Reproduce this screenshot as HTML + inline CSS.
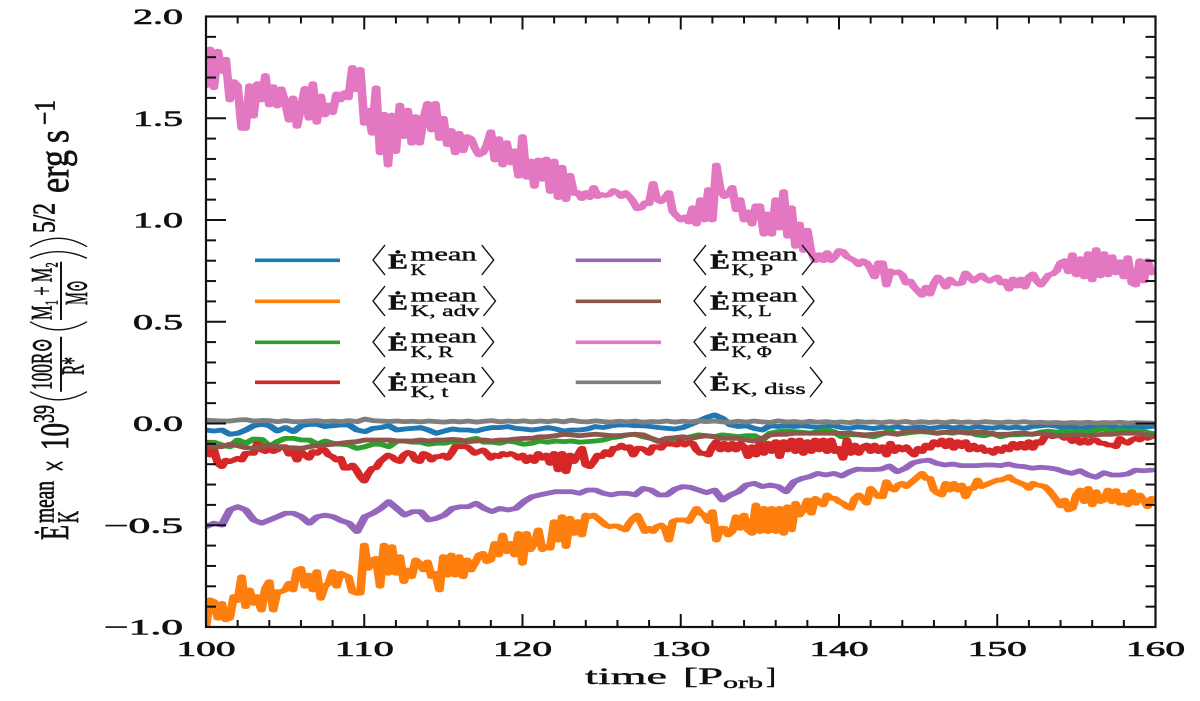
<!DOCTYPE html>
<html>
<head>
<meta charset="utf-8">
<title>Kinetic energy rate budget vs time</title>
<style>
html,body{margin:0;padding:0;background:#fff;}
svg{display:block;}
text{font-family:"Liberation Serif","DejaVu Serif",serif;fill:#111;stroke:#111;stroke-width:.4;}
</style>
</head>
<body>
<svg id="chart" xmlns="http://www.w3.org/2000/svg" width="1200" height="701" viewBox="0 0 1200 701">
<defs><clipPath id="plot-clip"><rect x="206" y="16.5" width="949.5" height="610.5"/></clipPath></defs>
<g id="series-layer" clip-path="url(#plot-clip)"></g>
<g id="axis-layer"></g>

<g>
<text x="585" y="684" font-size="23" textLength="82" lengthAdjust="spacingAndGlyphs">time</text>
<text x="683" y="684" font-size="23" textLength="40" lengthAdjust="spacingAndGlyphs">[P</text>
<text x="723" y="688" font-size="16" textLength="40" lengthAdjust="spacingAndGlyphs">orb</text>
<text x="766" y="684" font-size="23" textLength="10" lengthAdjust="spacingAndGlyphs">]</text>
</g>

<g>
<g transform="translate(68,540) rotate(-90) scale(1,1.85)">
<text x="0" y="0" font-size="22" textLength="15" lengthAdjust="spacingAndGlyphs">Ė</text>
<text x="17" y="-7.8" font-size="16" textLength="42" lengthAdjust="spacingAndGlyphs">mean</text>
<text x="17" y="5.5" font-size="16" textLength="12" lengthAdjust="spacingAndGlyphs">K</text>
<text x="68" y="0" font-size="22" textLength="12" lengthAdjust="spacingAndGlyphs">×</text>
<text x="90" y="0" font-size="22" textLength="27" lengthAdjust="spacingAndGlyphs">10</text>
<text x="117" y="-7.8" font-size="16" textLength="18" lengthAdjust="spacingAndGlyphs">39</text>
<text x="150" y="-8.9" font-size="16" textLength="52" lengthAdjust="spacingAndGlyphs">100R⊙</text>
<text x="165" y="8.5" font-size="17" textLength="18" lengthAdjust="spacingAndGlyphs">R*</text>
<text x="220" y="-8.9" font-size="16" textLength="58" lengthAdjust="spacingAndGlyphs">M₁ + M₂</text>
<text x="235" y="10.4" font-size="17" textLength="25" lengthAdjust="spacingAndGlyphs">M⊙</text>
<text x="307" y="-7.2" font-size="17" textLength="30" lengthAdjust="spacingAndGlyphs">5/2</text>
<text x="347" y="0" font-size="23" textLength="43" lengthAdjust="spacingAndGlyphs">erg</text>
<text x="397" y="0" font-size="23" textLength="13" lengthAdjust="spacingAndGlyphs">s</text>
<text x="415" y="-7.2" font-size="16" textLength="25" lengthAdjust="spacingAndGlyphs">−1</text>
</g>
<path d="M61,391.7V336.7M61,320V261.7" stroke="#111" stroke-width="2" fill="none"/>
<path d="M30,391.7Q58,408 87,391.7M30,321.7Q58,338 87,321.7M30,258.3Q58,245 87,258.3M30,246.7Q58,230 87,246.7" stroke="#111" stroke-width="1.4" fill="none"/>
</g>

<g fill="none">
<g>
<line x1="255" x2="340" y1="260.3" y2="260.3" stroke="#1f77b4" stroke-width="3.6"/>
<polyline points="385,245 373,260 385,275" stroke="#111" stroke-width="1.4"/>
<text x="388" y="268.3" font-size="21" font-weight="bold" textLength="20" lengthAdjust="spacingAndGlyphs">Ė</text>
<text x="410.7" y="260.7" font-size="19" textLength="66" lengthAdjust="spacingAndGlyphs">mean</text>
<text x="410.7" y="275" font-size="16" textLength="15.3" lengthAdjust="spacingAndGlyphs">K</text>
<polyline points="481.7,245 493.7,260 481.7,275" stroke="#111" stroke-width="1.4"/>
</g>
<g transform="translate(0,41)">
<line x1="255" x2="340" y1="260.3" y2="260.3" stroke="#ff7f0e" stroke-width="3.6"/>
<polyline points="385,245 373,260 385,275" stroke="#111" stroke-width="1.4"/>
<text x="388" y="268.3" font-size="21" font-weight="bold" textLength="20" lengthAdjust="spacingAndGlyphs">Ė</text>
<text x="410.7" y="260.7" font-size="19" textLength="66" lengthAdjust="spacingAndGlyphs">mean</text>
<text x="410.7" y="275" font-size="16" textLength="68.7" lengthAdjust="spacingAndGlyphs">K, adv</text>
<polyline points="483.5,245 495.5,260 483.5,275" stroke="#111" stroke-width="1.4"/>
</g>
<g transform="translate(0,82)">
<line x1="255" x2="340" y1="260.3" y2="260.3" stroke="#2ca02c" stroke-width="3.6"/>
<polyline points="385,245 373,260 385,275" stroke="#111" stroke-width="1.4"/>
<text x="388" y="268.3" font-size="21" font-weight="bold" textLength="20" lengthAdjust="spacingAndGlyphs">Ė</text>
<text x="410.7" y="260.7" font-size="19" textLength="66" lengthAdjust="spacingAndGlyphs">mean</text>
<text x="410.7" y="275" font-size="16" textLength="42.7" lengthAdjust="spacingAndGlyphs">K, R</text>
<polyline points="481.7,245 493.7,260 481.7,275" stroke="#111" stroke-width="1.4"/>
</g>
<g transform="translate(0,122)">
<line x1="255" x2="340" y1="260.3" y2="260.3" stroke="#d62728" stroke-width="3.6"/>
<polyline points="385,245 373,260 385,275" stroke="#111" stroke-width="1.4"/>
<text x="388" y="268.3" font-size="21" font-weight="bold" textLength="20" lengthAdjust="spacingAndGlyphs">Ė</text>
<text x="410.7" y="260.7" font-size="19" textLength="66" lengthAdjust="spacingAndGlyphs">mean</text>
<text x="410.7" y="275" font-size="16" textLength="37.7" lengthAdjust="spacingAndGlyphs">K, t</text>
<polyline points="481.7,245 493.7,260 481.7,275" stroke="#111" stroke-width="1.4"/>
</g>
<g>
<line x1="575.7" x2="661" y1="260.3" y2="260.3" stroke="#9467bd" stroke-width="3.6"/>
<polyline points="706,245 694,260 706,275" stroke="#111" stroke-width="1.4"/>
<text x="710" y="268.3" font-size="21" font-weight="bold" textLength="20" lengthAdjust="spacingAndGlyphs">Ė</text>
<text x="731.7" y="260.7" font-size="19" textLength="66" lengthAdjust="spacingAndGlyphs">mean</text>
<text x="731.7" y="275" font-size="16" textLength="41.5" lengthAdjust="spacingAndGlyphs">K, P</text>
<polyline points="802,245 814,260 802,275" stroke="#111" stroke-width="1.4"/>
</g>
<g transform="translate(0,41)">
<line x1="575.7" x2="661" y1="260.3" y2="260.3" stroke="#8c564b" stroke-width="3.6"/>
<polyline points="706,245 694,260 706,275" stroke="#111" stroke-width="1.4"/>
<text x="710" y="268.3" font-size="21" font-weight="bold" textLength="20" lengthAdjust="spacingAndGlyphs">Ė</text>
<text x="731.7" y="260.7" font-size="19" textLength="66" lengthAdjust="spacingAndGlyphs">mean</text>
<text x="731.7" y="275" font-size="16" textLength="40" lengthAdjust="spacingAndGlyphs">K, L</text>
<polyline points="802,245 814,260 802,275" stroke="#111" stroke-width="1.4"/>
</g>
<g transform="translate(0,82)">
<line x1="575.7" x2="661" y1="260.3" y2="260.3" stroke="#e377c2" stroke-width="3.6"/>
<polyline points="706,245 694,260 706,275" stroke="#111" stroke-width="1.4"/>
<text x="710" y="268.3" font-size="21" font-weight="bold" textLength="20" lengthAdjust="spacingAndGlyphs">Ė</text>
<text x="731.7" y="260.7" font-size="19" textLength="66" lengthAdjust="spacingAndGlyphs">mean</text>
<text x="731.7" y="275" font-size="16" textLength="40" lengthAdjust="spacingAndGlyphs">K, Φ</text>
<polyline points="802,245 814,260 802,275" stroke="#111" stroke-width="1.4"/>
</g>
<g transform="translate(0,122)">
<line x1="575.7" x2="661" y1="260.3" y2="260.3" stroke="#7f7f7f" stroke-width="3.6"/>
<polyline points="706,245 694,260 706,275" stroke="#111" stroke-width="1.4"/>
<text x="710" y="268.3" font-size="21" font-weight="bold" textLength="20" lengthAdjust="spacingAndGlyphs">Ė</text>
<text x="731.7" y="272" font-size="16" textLength="74" lengthAdjust="spacingAndGlyphs">K, diss</text>
<polyline points="810,245 822,260 810,275" stroke="#111" stroke-width="1.4"/>
</g>
</g>

<script>
const xTickValues = [100, 110, 120, 130, 140, 150, 160];
const xTickLabels = ['100', '110', '120', '130', '140', '150', '160'];
const yTickValues = [-1, -0.5, 0, 0.5, 1, 1.5, 2];
const yTickLabels = ['−1.0', '−0.5', '0.0', '0.5', '1.0', '1.5', '2.0'];
const timeStart = 100;
const timeEnd = 159.75;

const seriesBlue = [
-.032,-.037,-.032,-.053,-.048,-.032,-.011,-.004,-.011,-.037,
-.02,-.04,-.011,-.004,-.004,-.015,-.011,-.007,-.007,-.032,
-.04,-.024,-.02,-.011,-.032,-.027,-.024,-.02,-.032,-.048,
-.037,-.027,-.032,-.032,-.037,-.027,-.02,-.02,-.015,-.024,
-.027,-.032,-.027,-.02,-.027,-.037,-.032,-.032,-.027,-.015,
-.02,-.011,-.007,-.007,-.011,-.011,-.015,-.02,-.024,-.027,
-.02,-.004,.012,.029,.042,.025,-.007,-.015,-.011,-.024,
-.032,-.011,-.015,-.011,-.015,-.011,-.015,-.02,-.015,-.011,
-.02,-.024,-.015,-.02,-.025,-.018,-.022,-.016,-.024,-.02,
-.017,-.024,-.02,-.015,-.022,-.018,-.024,-.016,-.02,-.023,
-.017,-.022,-.018,-.024,-.015,-.012,-.008,-.013,-.02,-.016,
-.022,-.018,-.015,-.02,-.016,-.021,-.017,-.014,-.018,-.015];

const seriesOrange = [
-1.0,-.867,-.875,-.957,-.884,-.965,-.957,-.85,-.87,-.753,-.90,-.818,-.884,-.85,-.917,-.81,-.777,-.917,-.826,-.826,
-.818,-.785,-.818,-.72,-.712,-.80,-.745,-.818,-.728,-.859,-.80,-.785,-.728,-.80,-.736,-.745,-.753,-.826,-.834,-.834,
-.597,-.712,-.67,-.663,-.80,-.597,-.736,-.605,-.736,-.654,-.777,-.72,-.753,-.67,-.687,-.72,-.68,-.753,-.736,-.818,
-.654,-.745,-.646,-.745,-.654,-.753,-.67,-.72,-.687,-.646,-.638,-.679,-.67,-.589,-.646,-.548,-.63,-.589,-.646,-.54,
-.687,-.54,-.62,-.589,-.523,-.62,-.605,-.613,-.482,-.573,-.458,-.605,-.466,-.54,-.482,-.548,-.45,-.458,-.45,-.466,
-.482,-.499,-.507,-.504,-.504,-.515,-.523,-.49,-.466,-.45,-.49,-.531,-.515,-.531,-.507,-.499,-.515,-.573,-.482,-.474,
-.474,-.474,-.482,-.45,-.417,-.441,-.45,-.482,-.433,-.573,-.515,-.515,-.548,-.531,-.458,-.515,-.45,-.523,-.54,-.40,
-.531,-.417,-.531,-.417,-.531,-.417,-.54,-.409,-.523,-.392,-.45,-.425,-.376,-.441,-.368,-.384,-.40,-.351,-.368,-.368,
-.384,-.392,-.409,-.417,-.368,-.351,-.368,-.392,-.319,-.343,-.36,-.36,-.286,-.319,-.327,-.302,-.294,-.31,-.294,-.278,
-.261,-.245,-.27,-.27,-.327,-.343,-.351,-.294,-.327,-.294,-.327,-.302,-.36,-.319,-.319,-.278,-.31,-.302,-.294,-.286,
-.278,-.278,-.27,-.261,-.278,-.286,-.294,-.302,-.319,-.294,-.302,-.305,-.31,-.327,-.351,-.376,-.405,-.376,-.425,-.417,
-.351,-.327,-.384,-.319,-.40,-.335,-.384,-.376,-.327,-.384,-.33,-.392,-.351,-.40,-.335,-.392,-.351,-.376,-.409,-.368];

const seriesGreen = [
-.092,-.092,-.106,-.114,-.081,-.097,-.076,-.078,-.114,-.089,
-.073,-.073,-.081,-.081,-.102,-.086,-.097,-.102,-.106,-.122,
-.114,-.102,-.102,-.114,-.086,-.086,-.092,-.092,-.102,-.097,
-.097,-.089,-.102,-.081,-.073,-.092,-.092,-.097,-.086,-.092,
-.102,-.097,-.086,-.092,-.086,-.089,-.086,-.092,-.089,-.086,
-.081,-.07,-.065,-.056,-.053,-.065,-.073,-.089,-.081,-.081,
-.073,-.065,-.056,-.06,-.065,-.056,-.06,-.065,-.06,-.06,
-.081,-.048,-.04,-.037,-.04,-.043,-.048,-.04,-.032,-.04,
-.065,-.056,-.056,-.06,-.065,-.053,-.037,-.053,-.048,-.043,
-.04,-.043,-.048,-.043,-.048,-.037,-.04,-.056,-.06,-.048,
-.065,-.056,-.056,-.053,-.053,-.043,-.037,-.043,-.037,-.04,
-.037,-.043,-.032,-.027,-.04,-.032,-.037,-.037,-.04,-.048];

const seriesRed = [
-.122,-.155,-.13,-.196,-.212,-.18,-.187,-.18,-.171,-.18,-.147,-.147,-.147,-.097,-.13,-.138,-.122,-.138,-.13,-.114,
-.114,-.151,-.138,-.18,-.138,-.155,-.171,-.138,-.147,-.13,-.13,-.155,-.163,-.18,-.171,-.22,-.22,-.204,-.228,-.261,
-.283,-.245,-.22,-.217,-.187,-.171,-.155,-.163,-.18,-.187,-.155,-.142,-.147,-.18,-.187,-.147,-.155,-.18,-.163,-.163,
-.155,-.171,-.147,-.114,-.114,-.114,-.114,-.13,-.147,-.138,-.13,-.147,-.171,-.155,-.163,-.147,-.155,-.147,-.155,-.171,
-.155,-.187,-.163,-.187,-.147,-.171,-.155,-.196,-.147,-.228,-.147,-.237,-.155,-.187,-.155,-.122,-.204,-.212,-.187,-.155,
-.163,-.138,-.155,-.122,-.122,-.106,-.122,-.114,-.155,-.122,-.122,-.13,-.147,-.114,-.114,-.122,-.097,-.102,-.102,-.106,
-.089,-.106,-.092,-.097,-.13,-.147,-.147,-.155,-.114,-.089,-.13,-.097,-.13,-.097,-.13,-.097,-.114,-.163,-.114,-.155,
-.097,-.147,-.097,-.138,-.089,-.163,-.089,-.13,-.081,-.138,-.081,-.147,-.089,-.138,-.081,-.13,-.081,-.138,-.081,-.138,
-.122,-.171,-.081,-.147,-.106,-.147,-.114,-.106,-.138,-.106,-.138,-.114,-.155,-.097,-.138,-.114,-.13,-.114,-.138,-.155,
-.122,-.138,-.106,-.122,-.089,-.106,-.081,-.114,-.081,-.122,-.089,-.114,-.089,-.13,-.106,-.13,-.114,-.138,-.13,-.147,
-.122,-.138,-.114,-.13,-.097,-.122,-.097,-.122,-.089,-.122,-.089,-.097,-.065,-.056,-.065,-.06,-.06,-.073,-.065,-.089,
-.073,-.097,-.081,-.097,-.081,-.081,-.097,-.097,-.106,-.106,-.114,-.073,-.089,-.097,-.081,-.073,-.081,-.065,-.073,-.065];

const seriesPurple = [
-.507,-.49,-.499,-.425,-.409,-.425,-.474,-.49,-.474,-.458,
-.441,-.441,-.458,-.49,-.458,-.45,-.458,-.477,-.49,-.531,
-.458,-.441,-.417,-.384,-.417,-.45,-.433,-.433,-.474,-.466,
-.45,-.417,-.409,-.409,-.392,-.417,-.433,-.417,-.425,-.417,
-.384,-.36,-.351,-.343,-.335,-.335,-.335,-.343,-.327,-.327,
-.343,-.351,-.343,-.343,-.351,-.319,-.327,-.351,-.351,-.323,
-.31,-.314,-.327,-.34,-.327,-.376,-.351,-.335,-.302,-.294,
-.31,-.302,-.31,-.335,-.286,-.27,-.261,-.245,-.253,-.245,
-.258,-.237,-.224,-.226,-.226,-.224,-.209,-.237,-.22,-.193,
-.184,-.18,-.196,-.204,-.199,-.207,-.207,-.207,-.204,-.204,
-.207,-.199,-.209,-.212,-.22,-.215,-.218,-.224,-.237,-.245,
-.232,-.253,-.264,-.242,-.253,-.253,-.248,-.229,-.232,-.229];

const seriesBrown = [
-.092,-.114,-.114,-.102,-.109,-.119,-.122,-.114,-.106,-.114,
-.119,-.119,-.122,-.114,-.109,-.106,-.102,-.097,-.092,-.089,
-.081,-.081,-.081,-.081,-.086,-.086,-.086,-.081,-.086,-.081,
-.081,-.078,-.081,-.089,-.086,-.081,-.086,-.081,-.081,-.076,
-.073,-.073,-.065,-.065,-.06,-.053,-.056,-.06,-.056,-.053,
-.056,-.06,-.06,-.056,-.053,-.056,-.073,-.086,-.073,-.07,
-.065,-.073,-.065,-.06,-.065,-.073,-.073,-.073,-.081,-.086,
-.073,-.056,-.053,-.053,-.048,-.048,-.048,-.048,-.048,-.048,
-.048,-.048,-.053,-.056,-.053,-.048,-.048,-.053,-.04,-.037,
-.037,-.04,-.048,-.043,-.043,-.043,-.048,-.043,-.043,-.053,
-.053,-.053,-.048,-.048,-.053,-.048,-.053,-.06,-.06,-.056,
-.056,-.06,-.056,-.053,-.053,-.048,-.048,-.048,-.053,-.06];

const seriesPink = [
1.66,1.84,1.65,1.83,1.73,1.79,1.59,1.68,1.66,1.45,1.45,1.66,1.51,1.67,1.59,1.71,1.565,1.655,1.56,1.645,
1.58,1.49,1.60,1.46,1.55,1.647,1.50,1.67,1.48,1.61,1.516,1.565,1.527,1.62,1.59,1.626,1.60,1.75,1.64,1.74,
1.475,1.54,1.426,1.65,1.33,1.52,1.27,1.516,1.336,1.565,1.41,1.54,1.377,1.508,1.377,1.5,1.573,1.442,1.573,1.40,
1.50,1.37,1.44,1.33,1.426,1.34,1.41,1.40,1.352,1.32,1.33,1.37,1.434,1.295,1.40,1.27,1.38,1.28,1.34,1.215,
1.41,1.21,1.29,1.165,1.295,1.2,1.30,1.14,1.29,1.11,1.26,1.10,1.22,1.13,1.135,1.105,1.135,1.11,1.16,1.115,
1.125,1.12,1.125,1.145,1.135,1.115,1.135,1.115,1.09,1.055,1.06,1.085,1.08,1.18,1.10,1.09,1.11,1.135,1.04,1.02,
1.0,1.015,.99,1.06,.98,1.10,1.0,1.15,1.0,1.27,1.15,1.115,1.125,1.16,1.05,1.1,1.0,1.04,.98,1.07,
1.07,.93,1.03,.93,1.1,.96,1.14,.92,1.06,.87,.98,.85,.95,.84,.80,.83,.80,.84,.80,.82,
.85,.845,.82,.81,.80,.78,.80,.79,.76,.72,.79,.79,.68,.75,.74,.745,.73,.69,.70,.67,
.65,.63,.67,.636,.69,.72,.70,.67,.71,.69,.685,.69,.74,.72,.70,.715,.73,.71,.70,.71,
.72,.69,.70,.66,.71,.675,.71,.67,.72,.735,.70,.68,.705,.73,.735,.75,.79,.80,.745,.83,
.73,.81,.72,.835,.705,.855,.725,.835,.73,.82,.74,.795,.72,.815,.69,.68,.80,.70,.80,.74];

const seriesGray = [
.016,.014,.012,.012,.017,.019,.012,.015,.014,.009,
.014,.009,.009,.012,.014,.009,.012,.009,.014,.009,
.022,.014,.012,.01,.012,.009,.011,.008,.012,.009,
.007,.011,.008,.012,.007,.011,.014,.008,.012,.009,
.013,.008,.012,.009,.014,.008,.016,.01,.008,.013,
.009,.007,.011,.008,.012,.006,.01,.008,.012,.007,
.011,.008,.013,.009,.012,.008,.006,.011,.007,.012,
.008,.005,.013,.007,.01,.005,.011,.006,.009,.005,
.008,.004,.01,.006,.008,.004,.009,.005,.01,.004,
.009,.005,.008,.004,.01,.005,.008,.004,.009,.006,
.004,.008,.005,.009,.004,.006,.003,.005,.002,.005,
.003,.006,.002,.005,.003,.006,.002,.004,.003,.002];

const seriesColors = {
  blue: '#1f77b4', orange: '#ff7f0e', green: '#2ca02c', red: '#d62728',
  purple: '#9467bd', brown: '#8c564b', pink: '#e377c2', gray: '#7f7f7f'
};
const seriesOrder = [
  ['blue', seriesBlue], ['orange', seriesOrange], ['green', seriesGreen], ['red', seriesRed],
  ['purple', seriesPurple], ['brown', seriesBrown], ['pink', seriesPink], ['gray', seriesGray]
];

const NS = 'http://www.w3.org/2000/svg';
const plotLeft = 206, plotRight = 1155.5, plotTop = 16.5, plotBottom = 627;
const penStretch = 1.8;
function xScale(t) { return plotLeft + (t - 100) / 60 * (plotRight - plotLeft); }
function yScale(v) { return plotBottom - (v + 1) / 3 * (plotBottom - plotTop); }

const seriesLayer = document.getElementById('series-layer');
for (const [name, values] of seriesOrder) {
  const step = (timeEnd - timeStart) / (values.length - 1);
  let d = '';
  values.forEach(function (v, i) {
    d += (i ? 'L' : 'M') + (xScale(timeStart + i * step) / penStretch).toFixed(3) + ',' + yScale(v).toFixed(2);
  });
  const path = document.createElementNS(NS, 'path');
  
  
  path.setAttribute('d', d);
  path.setAttribute('transform', 'scale(' + penStretch + ',1)');
  path.setAttribute('fill', 'none');
  path.setAttribute('stroke', seriesColors[name]);
  path.setAttribute('stroke-width', '4.8');
  path.setAttribute('stroke-linejoin', 'round');
  path.setAttribute('stroke-linecap', 'round');
  seriesLayer.appendChild(path);
}

const axisLayer = document.getElementById('axis-layer');
const frame = document.createElementNS(NS, 'rect');


frame.setAttribute('x', plotLeft);
frame.setAttribute('y', plotTop);
frame.setAttribute('width', plotRight - plotLeft);
frame.setAttribute('height', plotBottom - plotTop);
frame.setAttribute('fill', 'none');
frame.setAttribute('stroke', '#111');
frame.setAttribute('stroke-width', '2.2');
axisLayer.appendChild(frame);

function tickLine(x1, y1, x2, y2) {
  const ln = document.createElementNS(NS, 'line');
  ln.setAttribute('x1', x1);
  ln.setAttribute('y1', y1);
  ln.setAttribute('x2', x2);
  ln.setAttribute('y2', y2);
  ln.setAttribute('stroke', '#111');
  ln.setAttribute('stroke-width', '2');
  return ln;
}

for (let t = 100; t <= 160; t += 2) {
  const len = t % 10 === 0 ? 13 : 7;
  const x = xScale(t);
  const bottomTick = tickLine(x, plotBottom, x, plotBottom - len);
  
  
  axisLayer.appendChild(bottomTick);
  const topTick = tickLine(x, plotTop, x, plotTop + len);
  
  
  axisLayer.appendChild(topTick);
}
for (let k = -10; k <= 20; k++) {
  const len = k % 5 === 0 ? 20 : 10;
  const y = yScale(k / 10);
  const leftTick = tickLine(plotLeft, y, plotLeft + len, y);
  
  
  axisLayer.appendChild(leftTick);
  const rightTick = tickLine(plotRight, y, plotRight - len, y);
  
  
  axisLayer.appendChild(rightTick);
}

xTickValues.forEach(function (t, i) {
  const label = document.createElementNS(NS, 'text');
  
  
  label.setAttribute('x', xScale(t) - 29.5);
  label.setAttribute('y', 656);
  label.setAttribute('font-size', '21');
  label.setAttribute('stroke-width', '.6');
  label.setAttribute('style', 'stroke-width:.6');
  label.setAttribute('textLength', '59');
  label.setAttribute('lengthAdjust', 'spacingAndGlyphs');
  label.textContent = xTickLabels[i];
  axisLayer.appendChild(label);
});
yTickValues.forEach(function (v, i) {
  const width = v < 0 ? 79 : 50;
  const label = document.createElementNS(NS, 'text');
  
  
  label.setAttribute('x', 183 - width);
  label.setAttribute('y', yScale(v) + 7.5);
  label.setAttribute('font-size', '22');
  label.setAttribute('style', 'stroke-width:.6');
  label.setAttribute('textLength', width);
  label.setAttribute('lengthAdjust', 'spacingAndGlyphs');
  label.textContent = yTickLabels[i];
  axisLayer.appendChild(label);
});
</script>
</svg>
</body>
</html>
